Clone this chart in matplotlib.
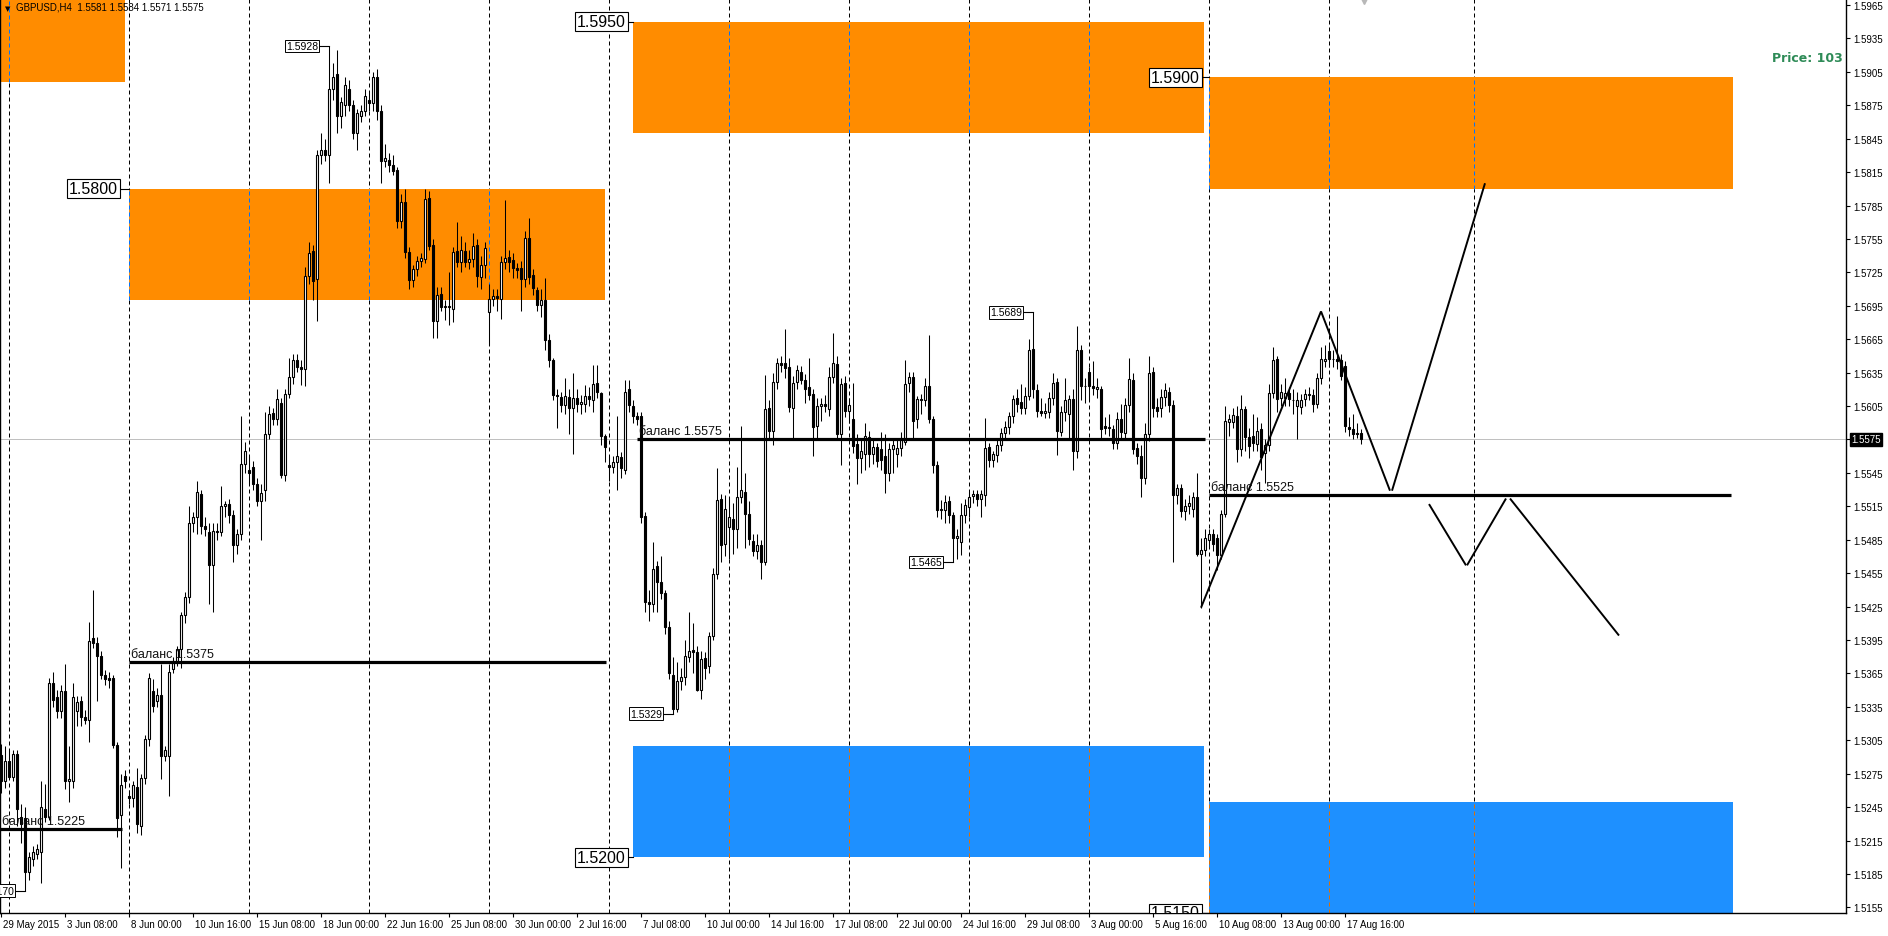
import numpy as np
import matplotlib

matplotlib.use("Agg")
import matplotlib.pyplot as plt
from matplotlib.patches import Rectangle
from matplotlib import transforms

plt.rcParams["font.family"] = ["Liberation Sans", "DejaVu Sans"]

# prices are kept in pips above 1.5000; bar 0 = 1 Jun 2015 00:00 (H4 bars)
BASE = 1.5
PIP = 0.0001
FIRST_BAR = -2

OPEN = [
    292, 268,
    286, 272, 293, 236, 235, 187, 198, 203, 205, 243, 236, 356, 344, 331, 349, 268, 268, 331, 340, 326, 323, 397, 392, 381, 364, 361, 361, 301, 238, 273,
    255, 253, 263, 228, 271, 306, 349, 340, 346, 291, 291, 369, 376, 387, 417, 434, 500, 505, 526, 497, 492, 462, 493, 492, 515, 517, 507, 480, 490, 553,
    548, 550, 535, 520, 530, 580, 599, 593, 608, 543, 616, 631, 646, 640, 638, 722, 744, 719, 830, 835, 830, 890, 903, 865, 875, 890, 875, 850, 865, 870,
    880, 877, 900, 870, 825, 826, 821, 817, 771, 788, 743, 718, 728, 735, 737, 792, 750, 681, 706, 694, 695, 692, 744, 734, 744, 734, 737, 750, 721, 732,
    689, 701, 704, 701, 734, 739, 736, 729, 729, 719, 756, 723, 709, 696, 700, 664, 646, 615, 613, 606, 613, 603, 612, 607, 607, 614, 610, 626, 617, 578,
    552, 550, 555, 559, 548, 620, 605, 596, 596, 506, 429, 427, 461, 447, 437, 407, 364, 333, 358, 362, 380, 386, 384, 350, 379, 372, 399, 454, 522, 481,
    496, 504, 495, 523, 528, 508, 484, 475, 480, 465, 603, 583, 627, 644, 644, 640, 603, 627, 636, 628, 622, 616, 587, 605, 607, 602, 631, 643, 580, 626,
    601, 593, 571, 558, 562, 577, 562, 568, 566, 560, 545, 566, 562, 567, 573, 626, 631, 593, 611, 610, 623, 593, 552, 512, 512, 520, 507, 487, 483, 507,
    514, 524, 526, 522, 525, 568, 557, 561, 570, 581, 586, 596, 612, 609, 603, 614, 656, 619, 601, 599, 600, 612, 627, 582, 600, 598, 611, 565, 655, 623,
    636, 623, 620, 620, 587, 585, 584, 572, 593, 581, 606, 628, 567, 560, 540, 580, 636, 604, 603, 613, 618, 606, 525, 531, 511, 515, 513, 523, 472, 476,
    485, 490, 487, 471, 508, 591, 591, 596, 566, 602, 577, 578, 571, 584, 563, 570, 617, 647, 612, 612, 617, 610, 605, 604, 611, 615, 615, 607, 630, 645,
    654, 647, 647, 646, 641, 586, 584, 581, 581,
]
HIGH = [
    302, 300,
    296, 296, 296, 248, 245, 205, 210, 212, 268, 266, 361, 366, 350, 355, 373, 300, 356, 345, 345, 332, 411, 440, 398, 385, 368, 366, 364, 303, 275, 278,
    260, 268, 280, 275, 310, 365, 360, 352, 373, 300, 373, 380, 390, 420, 438, 515, 510, 538, 530, 505, 500, 500, 500, 533, 520, 522, 512, 495, 596, 573,
    560, 556, 540, 535, 600, 605, 603, 620, 612, 620, 648, 652, 652, 646, 730, 752, 750, 835, 850, 845, 928, 913, 925, 882, 900, 898, 880, 872, 875, 890,
    888, 905, 908, 875, 840, 832, 830, 820, 795, 800, 748, 732, 740, 742, 800, 798, 755, 712, 712, 700, 725, 748, 770, 758, 752, 745, 760, 755, 740, 752,
    715, 710, 710, 740, 790, 745, 742, 733, 735, 762, 774, 728, 712, 710, 720, 670, 648, 620, 618, 630, 620, 635, 620, 615, 624, 622, 642, 642, 618, 580,
    560, 560, 596, 564, 628, 628, 610, 600, 600, 510, 440, 483, 466, 470, 440, 412, 380, 375, 370, 395, 420, 410, 390, 385, 384, 402, 460, 549, 526, 525,
    523, 518, 550, 587, 545, 520, 490, 490, 485, 633, 610, 635, 648, 650, 674, 648, 632, 642, 641, 634, 648, 620, 612, 612, 615, 640, 671, 650, 630, 632,
    612, 626, 580, 575, 590, 583, 575, 572, 582, 580, 572, 575, 575, 582, 646, 636, 636, 614, 616, 630, 669, 596, 556, 521, 525, 524, 510, 495, 518, 522,
    528, 530, 530, 530, 594, 572, 565, 575, 585, 592, 600, 615, 620, 625, 622, 665, 689, 625, 612, 608, 618, 635, 630, 605, 630, 615, 620, 677, 660, 630,
    640, 645, 630, 623, 595, 598, 588, 600, 607, 612, 648, 635, 572, 570, 590, 650, 640, 612, 620, 626, 622, 610, 535, 535, 522, 525, 528, 545, 487, 495,
    495, 495, 490, 512, 605, 598, 603, 605, 615, 605, 585, 598, 595, 590, 575, 625, 658, 650, 625, 630, 622, 620, 618, 616, 620, 622, 620, 635, 658, 660,
    660, 655, 686, 652, 645, 595, 598, 590, 584,
]
LOW = [
    258, 262,
    270, 268, 228, 213, 170, 180, 192, 198, 177, 232, 233, 335, 325, 325, 261, 250, 262, 318, 318, 320, 303, 388, 340, 360, 355, 352, 298, 218, 190, 262,
    248, 245, 222, 220, 266, 300, 330, 335, 270, 286, 255, 365, 372, 370, 410, 428, 492, 490, 490, 488, 427, 420, 485, 488, 505, 500, 465, 472, 485, 545,
    535, 530, 515, 485, 520, 575, 588, 588, 540, 538, 612, 625, 636, 624, 623, 715, 700, 681, 822, 825, 805, 880, 850, 855, 865, 870, 845, 835, 860, 865,
    870, 870, 862, 805, 820, 815, 812, 765, 765, 738, 710, 712, 722, 730, 733, 745, 666, 666, 690, 682, 678, 680, 730, 725, 730, 728, 730, 712, 710, 720,
    660, 695, 690, 683, 728, 725, 720, 720, 690, 712, 715, 705, 690, 685, 655, 640, 610, 585, 600, 598, 580, 562, 600, 598, 600, 605, 600, 612, 570, 555,
    538, 545, 530, 540, 544, 600, 590, 588, 500, 420, 412, 420, 420, 432, 400, 360, 329, 330, 350, 355, 375, 365, 349, 342, 360, 365, 395, 450, 465, 470,
    468, 472, 478, 518, 478, 480, 470, 468, 450, 462, 575, 570, 620, 636, 630, 600, 575, 620, 625, 608, 610, 560, 575, 592, 600, 596, 626, 575, 552, 595,
    590, 563, 535, 545, 548, 550, 553, 550, 548, 527, 538, 545, 550, 560, 570, 618, 575, 585, 598, 605, 590, 545, 505, 504, 500, 500, 465, 468, 471, 500,
    505, 518, 515, 505, 515, 550, 550, 555, 565, 575, 580, 590, 600, 598, 598, 610, 612, 595, 596, 594, 594, 606, 561, 578, 592, 575, 548, 558, 610, 608,
    610, 615, 612, 576, 580, 578, 566, 566, 575, 575, 600, 562, 553, 523, 535, 574, 595, 595, 595, 605, 600, 465, 517, 505, 503, 508, 505, 470, 424, 470,
    478, 475, 458, 468, 505, 578, 585, 555, 560, 565, 558, 565, 565, 548, 536, 565, 612, 600, 605, 605, 605, 598, 575, 598, 605, 610, 600, 603, 625, 640,
    640, 640, 638, 628, 582, 578, 575, 576, 571,
]
CLOSE = [
    268, 286,
    272, 293, 243, 230, 187, 200, 205, 207, 245, 236, 356, 341, 331, 349, 268, 270, 344, 339, 326, 323, 394, 392, 381, 364, 360, 359, 301, 235, 265, 268,
    253, 265, 230, 271, 306, 361, 336, 346, 291, 296, 366, 376, 387, 417, 434, 500, 505, 528, 497, 495, 462, 493, 492, 515, 517, 507, 480, 490, 553, 565,
    545, 535, 520, 527, 580, 598, 593, 611, 543, 616, 631, 646, 640, 638, 722, 742, 717, 830, 835, 830, 890, 900, 865, 878, 893, 875, 850, 868, 870, 883,
    877, 900, 870, 825, 828, 821, 816, 771, 788, 743, 718, 728, 735, 738, 791, 749, 681, 705, 694, 695, 694, 743, 734, 745, 734, 737, 749, 722, 732, 747,
    701, 704, 702, 734, 738, 734, 729, 727, 719, 756, 721, 711, 696, 700, 664, 646, 615, 614, 606, 614, 603, 612, 607, 609, 614, 611, 625, 618, 578, 568,
    550, 555, 560, 549, 618, 606, 596, 593, 505, 429, 427, 459, 447, 437, 407, 365, 333, 358, 362, 381, 385, 384, 350, 378, 370, 399, 454, 521, 480, 513,
    505, 495, 523, 530, 508, 486, 475, 480, 465, 602, 583, 627, 644, 642, 639, 604, 626, 637, 628, 620, 615, 586, 605, 607, 605, 631, 644, 580, 625, 601,
    606, 569, 558, 565, 578, 562, 568, 556, 557, 545, 566, 570, 567, 576, 625, 631, 592, 611, 610, 623, 593, 552, 512, 512, 519, 507, 487, 488, 507, 516,
    523, 526, 522, 526, 567, 557, 562, 570, 581, 586, 596, 611, 607, 603, 614, 655, 620, 601, 599, 601, 612, 626, 583, 600, 610, 611, 565, 655, 623, 623,
    623, 621, 622, 584, 585, 586, 572, 593, 582, 606, 629, 566, 560, 540, 580, 635, 603, 601, 613, 619, 606, 525, 531, 511, 515, 518, 523, 472, 476, 487,
    490, 481, 471, 508, 592, 593, 597, 566, 602, 577, 569, 572, 583, 559, 570, 617, 646, 611, 618, 617, 611, 610, 610, 610, 616, 615, 607, 630, 647, 647,
    647, 647, 645, 632, 587, 584, 580, 580, 575,
]

XTICK_BARS = [-2, 14, 30, 46, 62, 78, 94, 110, 126, 142, 158, 174, 190, 206, 222, 238, 254, 270, 286, 302, 318, 334]
XTICK_LABELS = [
    "29 May 2015", "3 Jun 08:00", "8 Jun 00:00", "10 Jun 16:00", "15 Jun 08:00", "18 Jun 00:00",
    "22 Jun 16:00", "25 Jun 08:00", "30 Jun 00:00", "2 Jul 16:00", "7 Jul 08:00", "10 Jul 00:00",
    "14 Jul 16:00", "17 Jul 08:00", "22 Jul 00:00", "24 Jul 16:00", "29 Jul 08:00", "3 Aug 00:00",
    "5 Aug 16:00", "10 Aug 08:00", "13 Aug 00:00", "17 Aug 16:00",
]
SEPARATOR_BARS = [0, 30, 60, 90, 120, 150, 180, 210, 240, 270, 300, 330, 366.25]

# zones: (first bar, last bar, low, high, colour)
ZONE_START = [-3, 30, 156, 300, 156, 300]
ZONE_END = [29, 149, 298.75, 431, 298.75, 431]
ZONE_LOW = [1.5896, 1.5700, 1.5850, 1.5800, 1.5200, 1.5150]
ZONE_HIGH = [1.6000, 1.5800, 1.5950, 1.5900, 1.5300, 1.5250]
ZONE_COLOR = ["#FF8C00", "#FF8C00", "#FF8C00", "#FF8C00", "#1E90FF", "#1E90FF"]
INVERTED = {"#FF8C00": "#0073FF", "#1E90FF": "#E16F00"}

# balance levels
BAL_LEVEL = [1.5225, 1.5375, 1.5575, 1.5525]
BAL_START = [-2.25, 30, 157, 300]
BAL_END = [28.25, 149.25, 299, 430.5]

# zone price tags: (price, bar of box right edge, bar where leader ends)
TAG_PRICE = [1.5800, 1.5950, 1.5900, 1.5200, 1.5150]
TAG_RIGHT = [27.25, 154.25, 297.75, 154.25, 297.75]
TAG_END = [30, 156, 300, 156, 300]

# extreme labels
EXT_PRICE = [1.5928, 1.5329, 1.5465, 1.5689, 1.5170]
EXT_RIGHT = [77.3, 163.3, 233.3, 253.3, 1.2]
EXT_BAR = [80, 166, 236, 256, 4]

# projected zig-zag (bar, price) pairs
ZIG_X = [(298, 328), (328, 345.25), (345.75, 369), (355, 364.25), (364.5, 374.25), (375.25, 402.5)]
ZIG_Y = [(1.5424, 1.5690), (1.5690, 1.5529), (1.5529, 1.5805), (1.5517, 1.5462), (1.5462, 1.5522), (1.5522, 1.5399)]

LAST_PRICE = 1.5575
HEADER = "GBPUSD,H4  1.5581 1.5584 1.5571 1.5575"

W, H = 1888, 937
fig = plt.figure(figsize=(W / 100, H / 100), dpi=100)
ax = fig.add_axes([0, 23 / H, 1846 / W, 914 / H])
ax.set_xlim(-2.25, 459.25)
ax.set_ylim(1.514993, 1.597039)

bars = np.arange(FIRST_BAR, FIRST_BAR + len(OPEN))
o = BASE + np.array(OPEN) * PIP
h = BASE + np.array(HIGH) * PIP
l = BASE + np.array(LOW) * PIP
c = BASE + np.array(CLOSE) * PIP

dash = (0, (4, 3))
for k in SEPARATOR_BARS:
    ax.axvline(k, color="black", lw=0.72, ls=dash, zorder=0.5)

for x0, x1, lo, hi, col in zip(ZONE_START, ZONE_END, ZONE_LOW, ZONE_HIGH, ZONE_COLOR):
    ax.add_patch(Rectangle((x0, lo), x1 - x0, hi - lo, fc=col, ec="none", zorder=1))
    for k in SEPARATOR_BARS:
        if x0 <= k <= x1:
            ax.vlines(k, lo, hi, color=INVERTED[col], lw=0.72, ls=dash, zorder=1.5)

ax.axhline(LAST_PRICE, color="#C0C0C0", lw=0.72, zorder=1.8)

# candles
ax.vlines(bars, l, h, color="black", lw=0.75, zorder=3)
up = c >= o
body_lo = np.minimum(o, c)
body_h = np.maximum(np.abs(c - o), 0.00004)
ax.bar(bars[up], body_h[up], bottom=body_lo[up], width=0.58, color="white",
       edgecolor="black", lw=0.8, zorder=4)
ax.bar(bars[~up], body_h[~up], bottom=body_lo[~up], width=0.58, color="black",
       edgecolor="black", lw=0.8, zorder=4)

# balance lines
for lev, x0, x1 in zip(BAL_LEVEL, BAL_START, BAL_END):
    ax.hlines(lev, x0, x1, color="black", lw=2.3, zorder=5)
    ax.annotate(f"баланс {lev:.4f}", (x0, lev), xytext=(1.5, 1.5), textcoords="offset points",
                ha="left", va="bottom", fontsize=9, color="#111111", zorder=6)

# zig-zag projection
for xs, ys in zip(ZIG_X, ZIG_Y):
    ax.plot(xs, ys, color="black", lw=1.4, zorder=5, solid_capstyle="butt")

# zone price tags
for p, xr, xe in zip(TAG_PRICE, TAG_RIGHT, TAG_END):
    ax.plot([xr + 0.5, xe], [p, p], color="black", lw=0.8, zorder=6)
    ax.text(xr, p, f"{p:.4f}", ha="right", va="center", fontsize=11.5, zorder=7, clip_on=True,
            bbox=dict(boxstyle="square,pad=0.12", fc="white", ec="black", lw=0.8))

# extreme labels
for p, xr, xb in zip(EXT_PRICE, EXT_RIGHT, EXT_BAR):
    ax.plot([xr + 0.3, xb], [p, p], color="black", lw=0.8, zorder=6)
    ax.text(xr, p, f"{p:.4f}", ha="right", va="center", fontsize=7.5, zorder=7, clip_on=True,
            bbox=dict(boxstyle="square,pad=0.12", fc="white", ec="black", lw=0.7))

# axes styling
ax.spines["top"].set_visible(False)
for side in ["left", "right", "bottom"]:
    ax.spines[side].set_linewidth(1.0)
ax.yaxis.tick_right()
yt = np.round(np.arange(1.5155, 1.5966, 0.003), 4)
ax.set_yticks(yt)
ax.set_yticklabels([f"{v:.4f}" for v in yt])
ax.tick_params(axis="y", direction="out", length=3, width=0.8, pad=2, labelsize=7)
ax.set_xticks(XTICK_BARS)
ax.set_xticklabels(XTICK_LABELS)
ax.tick_params(axis="x", direction="out", length=3, width=0.8, pad=1.5, labelsize=7)
shift = transforms.ScaledTranslation(2 / 100, 0, fig.dpi_scale_trans)
for lab in ax.get_xticklabels():
    lab.set_ha("left")
    lab.set_transform(lab.get_transform() + shift)

# current price tag on the axis
ax.text(1.0 + 5 / 1846, LAST_PRICE, f"{LAST_PRICE:.4f}", transform=ax.get_yaxis_transform(),
        ha="left", va="center", fontsize=7, color="white", zorder=8, clip_on=False,
        bbox=dict(boxstyle="square,pad=0.15", fc="black", ec="black"))

# chart shift marker
ax.plot([338.75], [1.597039], marker="v", ms=7, color="#B8B8B8", clip_on=False, zorder=8)

# header and info
fig.text(5 / W, 1 - 9 / H, "▼", fontsize=5, va="center", ha="left", family="DejaVu Sans")
fig.text(16 / W, 1 - 8 / H, HEADER, fontsize=7, va="center", ha="left")
fig.text(1843 / W, 1 - 59 / H, "Price: 103", fontsize=9, fontweight="bold", color="#2E8B57",
         va="center", ha="right", family="DejaVu Sans")

fig.savefig("out.png", dpi=100)
